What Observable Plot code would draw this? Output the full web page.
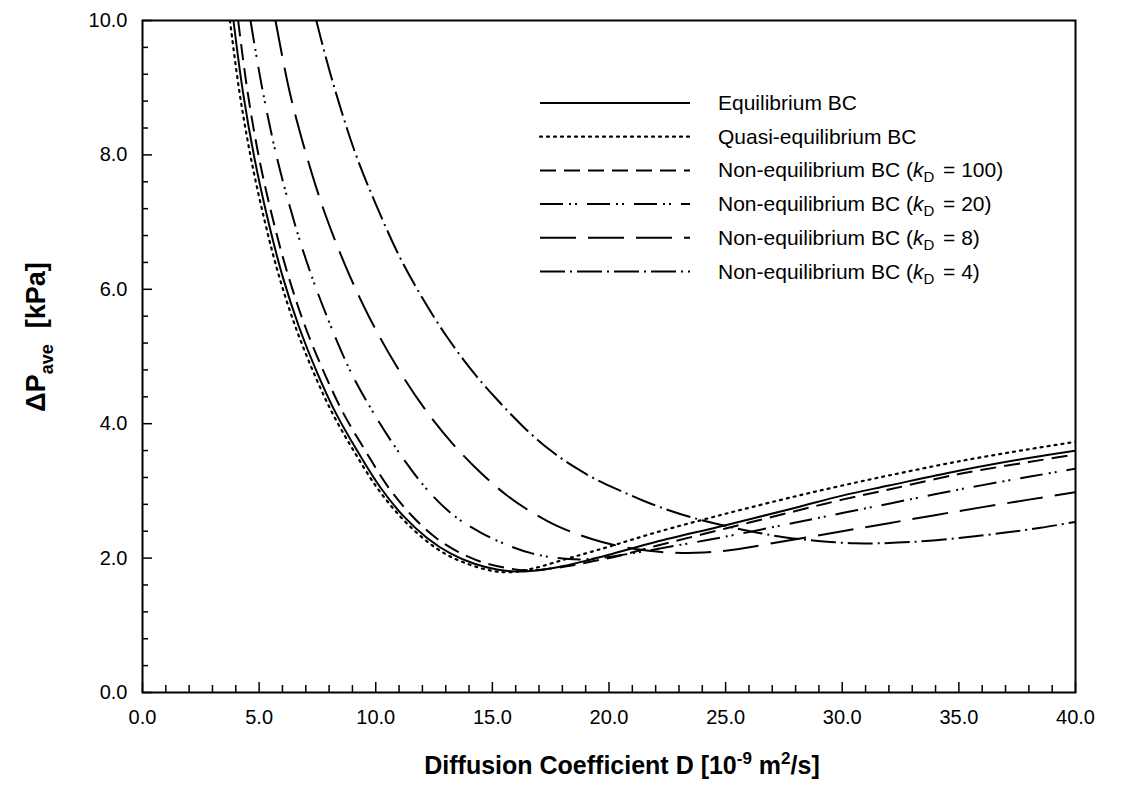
<!DOCTYPE html>
<html>
<head>
<meta charset="utf-8">
<script src="https://cdn.jsdelivr.net/npm/d3@7"></script>
<script src="https://cdn.jsdelivr.net/npm/@observablehq/plot@0.6"></script>
<style>
  body { margin: 0; background: #fff; }
  #chart { width: 1143px; height: 806px; }
</style>
</head>
<body>
<div id="chart"></div>
<script>
// Average pressure drop vs. diffusion coefficient for several boundary conditions
const D_eq  = [3.9, 4.3, 4.8, 5.4, 6.0, 6.7, 7.5, 8.3, 9.2, 10.2, 11.2, 12.2, 13.2, 14.2, 15.2, 16.0, 17, 18, 19, 20, 22, 25, 28, 30, 32, 35, 38, 40];
const P_eq  = [10, 8.95, 7.95, 7.0, 6.2, 5.45, 4.75, 4.15, 3.6, 3.05, 2.62, 2.3, 2.07, 1.92, 1.83, 1.80, 1.82, 1.88, 1.96, 2.05, 2.24, 2.49, 2.75, 2.93, 3.08, 3.3, 3.49, 3.6];

const D_qe  = [3.75, 4.15, 4.65, 5.25, 5.85, 6.55, 7.35, 8.15, 9.05, 10.05, 11.05, 12.05, 13.05, 14.05, 15.0, 15.8, 16.8, 18, 19, 20, 22, 25, 28, 30, 32, 35, 38, 40];
const P_qe  = [10, 8.95, 7.95, 7.0, 6.2, 5.45, 4.75, 4.15, 3.6, 3.05, 2.62, 2.29, 2.05, 1.9, 1.81, 1.79, 1.85, 1.97, 2.07, 2.17, 2.38, 2.66, 2.92, 3.08, 3.23, 3.44, 3.62, 3.73];

const D_100 = [4.1, 4.5, 5.0, 5.62, 6.25, 6.97, 7.8, 8.62, 9.55, 10.55, 11.55, 12.55, 13.55, 14.55, 15.5, 16.4, 17.4, 18.4, 19.4, 20.5, 22, 25, 28, 30, 32, 35, 38, 40];
const P_100 = [10, 8.95, 7.95, 7.0, 6.2, 5.45, 4.75, 4.15, 3.6, 3.05, 2.63, 2.31, 2.09, 1.94, 1.86, 1.82, 1.84, 1.89, 1.96, 2.04, 2.18, 2.44, 2.7, 2.87, 3.02, 3.25, 3.43, 3.54];

const D_20  = [4.63, 5.1, 5.7, 6.3, 7.0, 7.9, 9.0, 10.1, 11.2, 12.3, 13.4, 14.5, 15.6, 16.7, 17.8, 18.8, 19.8, 20.8, 22.3, 25, 28, 30, 32, 35, 38, 40];
const P_20  = [10, 9.05, 8.05, 7.25, 6.45, 5.6, 4.72, 4.05, 3.47, 2.98, 2.62, 2.38, 2.2, 2.07, 2.0, 1.98, 2.01, 2.06, 2.15, 2.32, 2.53, 2.67, 2.81, 3.02, 3.21, 3.33];

const D_8   = [5.7, 6.3, 7.0, 7.8, 8.7, 9.7, 10.9, 12.1, 13.3, 14.5, 15.6, 16.7, 17.7, 18.7, 19.7, 20.7, 21.7, 22.7, 23.7, 25, 27, 30, 32, 35, 38, 40];
const P_8   = [10, 8.95, 8.03, 7.15, 6.35, 5.6, 4.85, 4.22, 3.7, 3.27, 2.94, 2.68, 2.49, 2.35, 2.24, 2.16, 2.11, 2.08, 2.08, 2.11, 2.22, 2.4, 2.52, 2.7, 2.87, 2.98];

const D_4   = [7.45, 7.9, 8.4, 9.1, 9.9, 11, 12, 13, 14.1, 15.2, 16.4, 17.5, 18.5, 19.5, 20.5, 21.5, 22.5, 23.5, 24.5, 25.5, 26.5, 27.5, 28.5, 29.5, 30.5, 31.5, 33, 35, 37, 38.5, 40];
const P_4   = [10, 9.4, 8.8, 8.05, 7.35, 6.5, 5.87, 5.32, 4.8, 4.36, 3.93, 3.6, 3.36, 3.16, 3.0, 2.85, 2.72, 2.61, 2.52, 2.44, 2.37, 2.31, 2.27, 2.24, 2.22, 2.22, 2.24, 2.3, 2.38, 2.45, 2.54];

const seriesNames = ["Equilibrium BC", "Quasi-equilibrium BC", "Non-equilibrium BC", "Non-equilibrium BC", "Non-equilibrium BC", "Non-equilibrium BC"];
const seriesKD    = [null, null, "100", "20", "8", "4"];

const xMajor = d3.range(0, 40.001, 5);
const xMinor = d3.range(0, 40.001, 1).filter(v => v % 5 !== 0);
const yMajor = d3.range(0, 10.001, 2);
const yMinor = d3.range(0, 10.001, 0.4).filter(v => Math.abs(v / 2 - Math.round(v / 2)) > 1e-6);

const W = 1143, H = 806, mL = 142, mR = 68, mT = 20, mB = 114;
const frameW = W - mL - mR, frameH = H - mT - mB;
const font = "'Liberation Sans', Arial, Helvetica, sans-serif";

// line styles per series
const dashes = [null, "2 5", "16 8", "23 6 2 4 2 10", "36 12", "25 5 2 5"];
const caps   = ["butt", "round", "butt", "butt", "butt", "butt"];

const seriesData = [[D_eq, P_eq], [D_qe, P_qe], [D_100, P_100], [D_20, P_20], [D_8, P_8], [D_4, P_4]];
const rows = seriesData.flatMap(([D, P], k) => D.map((d, i) => ({k, D: d, P: P[i]})));

const marks = [
  Plot.tickX(xMinor, {x: d => d, insetTop: frameH - 7, strokeWidth: 1.5}),
  Plot.tickX(xMajor, {x: d => d, insetTop: frameH - 10, strokeWidth: 1.5}),
  Plot.tickY(yMinor, {y: d => d, insetRight: frameW - 6, strokeWidth: 1.5}),
  Plot.tickY(yMajor, {y: d => d, insetRight: frameW - 10, strokeWidth: 1.5}),
  ...seriesData.map((_, k) => Plot.line(rows.filter(r => r.k === k), {
    x: "D", y: "P", stroke: "#000", strokeWidth: k === 1 ? 2.2 : 2,
    strokeDasharray: dashes[k], strokeLinecap: caps[k], curve: "catmull-rom", clip: true
  })),
  Plot.frame({stroke: "#000", strokeWidth: 2}),
  Plot.axisX(xMajor, {tickSize: 0, tickPadding: 17, tickFormat: d => d.toFixed(1), label: null, fontSize: 20}),
  Plot.axisY(yMajor, {tickSize: 0, tickPadding: 15, tickFormat: d => d.toFixed(1), label: null, fontSize: 20})
];

const svg = Plot.plot({
  width: W, height: H,
  marginLeft: mL, marginRight: mR, marginTop: mT, marginBottom: mB,
  x: {domain: [0, 40]},
  y: {domain: [0, 10]},
  style: {fontFamily: font, fontSize: "20px", color: "#000", background: "#fff"},
  marks
});

const root = d3.select(svg);

// axis titles with sub/superscripts
const xt = root.append("text")
  .attr("x", 622).attr("y", 774)
  .attr("text-anchor", "middle")
  .attr("font-family", font).attr("font-size", 25).attr("font-weight", "bold").attr("fill", "#000");
xt.append("tspan").text("Diffusion Coefficient D [10");
xt.append("tspan").attr("dy", -10).attr("font-size", 17).text("-9");
xt.append("tspan").attr("dy", 10).text(" m");
xt.append("tspan").attr("dy", -10).attr("font-size", 17).text("2");
xt.append("tspan").attr("dy", 10).text("/s]");

const yt = root.append("text")
  .attr("transform", `translate(45, 337) rotate(-90)`)
  .attr("text-anchor", "middle")
  .attr("font-family", font).attr("font-size", 27).attr("font-weight", "bold").attr("fill", "#000");
yt.append("tspan").text("\u0394P");
yt.append("tspan").attr("dy", 8).attr("font-size", 18).text("ave");
yt.append("tspan").attr("dy", -8).attr("dx", 16).text("[kPa]");

// legend
const legend = root.append("g")
  .attr("font-family", font).attr("font-size", 21).attr("text-anchor", "start");
const legendX1 = 540, legendX2 = 690, legendTextX = 718, legendY0 = 103, legendStep = 33.7;
seriesNames.forEach((name, k) => {
  const y = legendY0 + k * legendStep;
  legend.append("line")
    .attr("x1", legendX1).attr("x2", legendX2).attr("y1", y).attr("y2", y)
    .attr("stroke", "#000").attr("stroke-width", k === 1 ? 2.2 : 2)
    .attr("stroke-dasharray", dashes[k]).attr("stroke-linecap", caps[k]);
  const t = legend.append("text").attr("x", legendTextX).attr("y", y + 7).attr("fill", "#000");
  t.append("tspan").text(name);
  if (seriesKD[k]) {
    t.append("tspan").text(" (");
    t.append("tspan").attr("font-style", "italic").text("k");
    t.append("tspan").attr("dy", 5).attr("font-size", 15).text("D");
    t.append("tspan").attr("dy", -5).attr("dx", 3).text(" = " + seriesKD[k] + ")");
  }
});

document.getElementById("chart").appendChild(svg);
</script>
</body>
</html>
